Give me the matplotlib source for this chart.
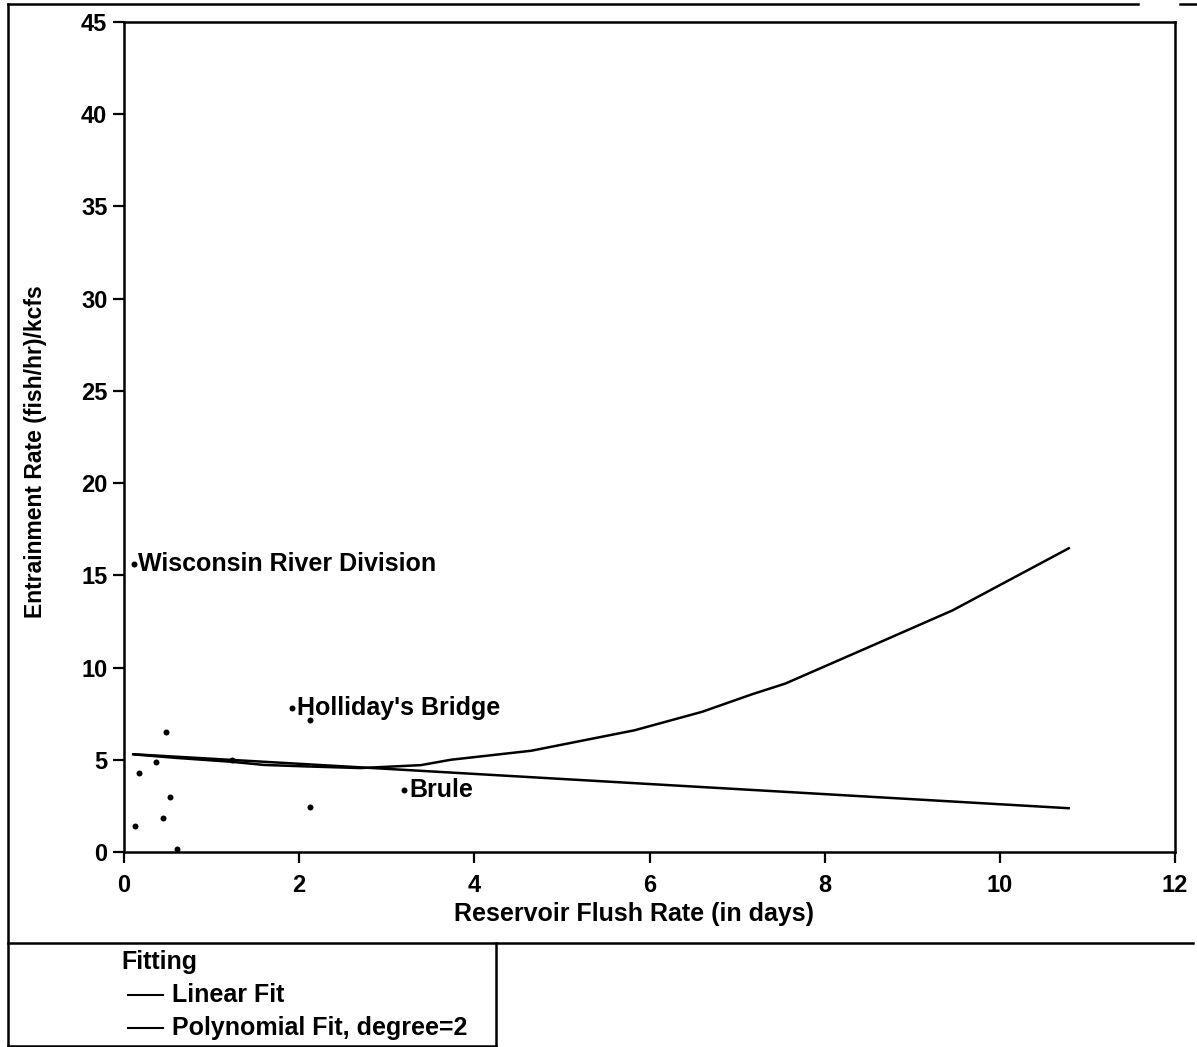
import matplotlib
matplotlib.use("Agg")
import matplotlib.pyplot as plt
from matplotlib.lines import Line2D

plt.rcParams['font.family'] = ['Liberation Sans', 'DejaVu Sans']

# ---- data ----
pt_x = [0.12, 0.17, 0.37, 0.48, 0.44, 0.52, 0.60, 1.23, 2.12, 2.12]
pt_y = [1.41, 4.29, 4.86, 6.50, 1.86, 3.00, 0.15, 4.98, 7.18, 2.42]

site_names = ["Wisconsin River Division", "Holliday's Bridge", "Brule"]
site_x = [0.11, 1.92, 3.20]
site_y = [15.6, 7.8, 3.36]

lin_x = [0.11, 10.8]
lin_y = [5.30, 2.37]

poly_x = [0.09, 0.6, 1.23, 1.6, 2.02, 2.7, 3.39, 3.73, 4.65, 5.83, 6.6, 7.17, 7.55, 8.5, 9.46, 10.8]
poly_y = [5.30, 5.10, 4.89, 4.72, 4.65, 4.55, 4.71, 5.00, 5.49, 6.60, 7.60, 8.55, 9.13, 11.1, 13.1, 16.5]

x_ticks = [0, 2, 4, 6, 8, 10, 12]
y_ticks = [0, 5, 10, 15, 20, 25, 30, 35, 40, 45]

W, H = 1197, 1047
fig = plt.figure(figsize=(W / 100, H / 100), dpi=100)
fig.patch.set_facecolor('white')

def fx(px):
    return px / W

def fy(py):
    return 1 - py / H

ax = fig.add_axes([fx(124), fy(852), fx(1175) - fx(124), fy(22) - fy(852)])
ax.set_xlim(0, 12)
ax.set_ylim(0, 45)

FS = 17
ax.plot(lin_x, lin_y, color='black', lw=1.8, solid_capstyle='butt')
ax.plot(poly_x, poly_y, color='black', lw=1.8, solid_capstyle='butt')
ax.plot(pt_x, pt_y, 'o', color='black', ms=4.3, mew=0)
ax.plot(site_x, site_y, 'o', color='black', ms=4.3, mew=0)
for name, sx, sy in zip(site_names, site_x, site_y):
    ax.annotate(name, (sx, sy), xytext=(3.5, 0), textcoords='offset points',
                va='center', ha='left', fontsize=18, fontweight='bold')

ax.set_xticks(x_ticks)
ax.set_yticks(y_ticks)
ax.set_xticklabels([str(v) for v in x_ticks], fontsize=FS, fontweight='bold')
ax.set_yticklabels([str(v) for v in y_ticks], fontsize=FS, fontweight='bold')
ax.tick_params(axis='both', direction='out', length=8, width=1.6, color='black')
ax.tick_params(axis='x', pad=8)
ax.tick_params(axis='y', pad=4)
for s in ax.spines.values():
    s.set_linewidth(1.8)

fig.text(fx(634), fy(914), "Reservoir Flush Rate (in days)", ha='center', va='center',
         fontsize=18, fontweight='bold')
fig.text(fx(36), fy(452), "Entrainment Rate (fish/hr)/kcfs", ha='center', va='center',
         rotation=90, fontsize=16.5, fontweight='bold')

# ---- outer frame and legend box ----
def fline(x0, y0, x1, y1, lw=1.8):
    fig.add_artist(Line2D([fx(x0), fx(x1)], [fy(y0), fy(y1)], color='black', lw=lw,
                          transform=fig.transFigure))

fline(8, 4, 1138, 4)
fline(1180, 4, 1197, 4)
fline(8, 4, 8, 1046)
fline(8, 943, 1193, 943)
fline(496, 943, 496, 1046)
fline(8, 1046, 496, 1046)

fig.text(fx(121), fy(962), "Fitting", ha='left', va='center', fontsize=18, fontweight='bold')
fline(128, 995, 163, 995, lw=1.5)
fig.text(fx(172), fy(995), "Linear Fit", ha='left', va='center', fontsize=18, fontweight='bold')
fline(128, 1028, 163, 1028, lw=1.5)
fig.text(fx(172), fy(1028), "Polynomial Fit, degree=2", ha='left', va='center',
         fontsize=18, fontweight='bold')

fig.savefig("out.png", dpi=100, facecolor='white')
